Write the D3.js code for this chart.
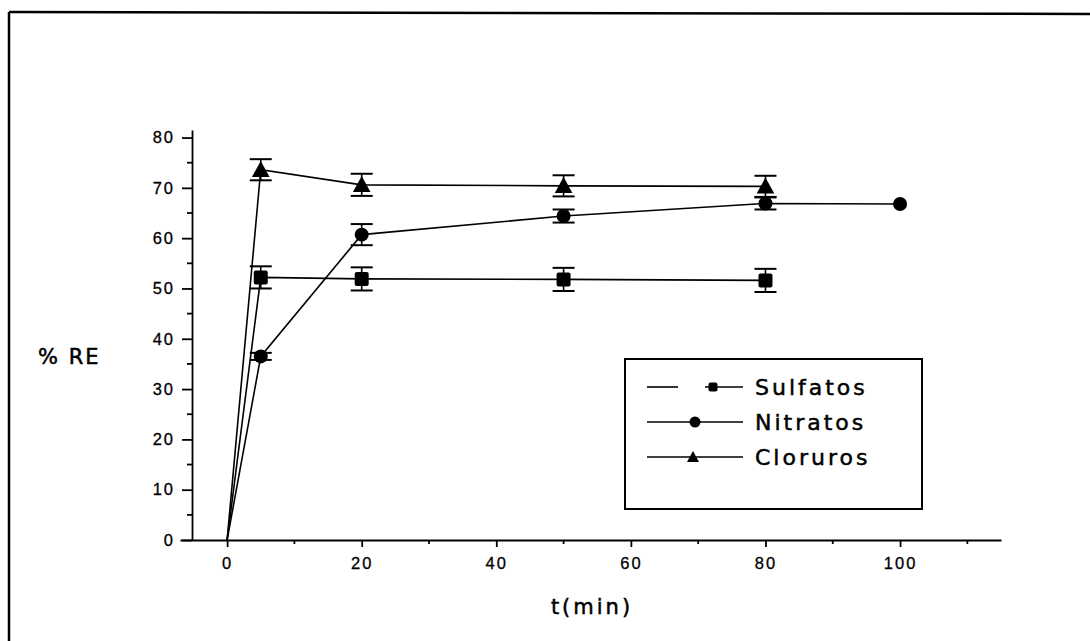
<!DOCTYPE html>
<head>
    <meta charset="utf-8">
    <script type="text/javascript" src="https://d3js.org/d3.v7.min.js"></script>
    <style>
        body { margin: 0; background: #fff; }
        .chart { background: #fff; }
        .axis text {
            font-family: "Liberation Sans", Arial, sans-serif;
            font-size: 16.5px;
            letter-spacing: 2px;
            fill: #000;
            stroke: #000;
            stroke-width: 0.3px;
        }
        .axis path, .axis line { stroke: #000; stroke-width: 1.8; }
        .lbl { font-family: "DejaVu Sans", sans-serif; fill: #000; stroke: #000; stroke-width: 0.5px; }
    </style>
</head>

<svg class="chart" width="1090" height="641"></svg>

<script>
    // data
    var tSulf = [0, 5, 20, 50, 80],
        sulfatos = [0, 52.2, 51.9, 51.8, 51.6],
        sulfErr = [0, 2.2, 2.3, 2.3, 2.3];

    var tNit = [0, 5, 20, 50, 80, 100],
        nitratos = [0, 36.5, 60.7, 64.4, 66.9, 66.8],
        nitErr = [0, 0.7, 2.1, 1.3, 1.2, 0];

    var tClor = [0, 5, 20, 50, 80],
        cloruros = [0, 73.6, 70.6, 70.4, 70.3],
        clorErr = [0, 2.1, 2.2, 2.1, 2.1];

    var xTicks = [0, 20, 40, 60, 80, 100],
        xMinor = [10, 30, 50, 70, 90, 110],
        yTicks = [0, 10, 20, 30, 40, 50, 60, 70, 80],
        yMinor = [5, 15, 25, 35, 45, 55, 65, 75];

    var names = ["Sulfatos", "Nitratos", "Cloruros"];

    var series = [
        { name: names[0], t: tSulf, v: sulfatos, e: sulfErr, shape: "square" },
        { name: names[1], t: tNit, v: nitratos, e: nitErr, shape: "circle" },
        { name: names[2], t: tClor, v: cloruros, e: clorErr, shape: "triangle" }
    ];

    var svg = d3.select(".chart");

    // page frame (top and left edge of scanned sheet)
    svg.append("line").attr("x1", 9).attr("y1", 12).attr("x2", 1090).attr("y2", 14)
        .attr("stroke", "#000").attr("stroke-width", 2.5);
    svg.append("line").attr("x1", 9).attr("y1", 12).attr("x2", 9).attr("y2", 641)
        .attr("stroke", "#000").attr("stroke-width", 2.5);

    var x = d3.scaleLinear().domain([-7, 115]).range([180, 1001]);
    var y = d3.scaleLinear().domain([0, 81.5]).range([540, 130]);
    var yAxisX = 192;

    // x axis
    var gx = svg.append("g").attr("class", "axis")
        .attr("transform", "translate(0," + y(0) + ")")
        .call(d3.axisBottom(x).tickValues(xTicks).tickSize(7).tickSizeOuter(0).tickPadding(10))
        .attr("font-size", null).attr("font-family", null);
    gx.selectAll(".minor").data(xMinor).enter().append("line")
        .attr("x1", function(d) { return x(d); }).attr("x2", function(d) { return x(d); })
        .attr("y1", 0).attr("y2", 4).attr("stroke", "#000").attr("stroke-width", 1.5);

    // y axis
    var gy = svg.append("g").attr("class", "axis")
        .attr("transform", "translate(" + yAxisX + ",0)")
        .call(d3.axisLeft(y).tickValues(yTicks).tickSize(10).tickSizeOuter(0).tickPadding(7))
        .attr("font-size", null).attr("font-family", null);
    gy.selectAll(".minor").data(yMinor).enter().append("line")
        .attr("x1", -5).attr("x2", 0)
        .attr("y1", function(d) { return y(d); }).attr("y2", function(d) { return y(d); })
        .attr("stroke", "#000").attr("stroke-width", 1.5);

    // axis titles
    svg.append("text").attr("class", "lbl")
        .attr("x", 38).attr("y", 364)
        .style("font-size", "21px").style("letter-spacing", "2px")
        .text("% RE");
    svg.append("text").attr("class", "lbl")
        .attr("x", 592).attr("y", 614).attr("text-anchor", "middle")
        .style("font-size", "21px").style("letter-spacing", "3px")
        .text("t(min)");

    function marker(g, shape, cx, cy, s) {
        if (shape === "square") {
            g.append("rect").attr("x", cx - s / 2).attr("y", cy - s / 2)
                .attr("width", s).attr("height", s).attr("rx", 2).attr("fill", "#000");
        } else if (shape === "circle") {
            g.append("circle").attr("cx", cx).attr("cy", cy).attr("r", s / 2).attr("fill", "#000");
        } else {
            g.append("path").attr("transform", "translate(" + cx + "," + cy + ")")
                .attr("d", "M0," + (-s * 0.55) + "L" + (s * 0.55) + "," + (s * 0.45) + "L" + (-s * 0.55) + "," + (s * 0.45) + "Z")
                .attr("fill", "#000");
        }
    }

    var line = d3.line()
        .x(function(d) { return x(d[0]); })
        .y(function(d) { return y(d[1]); });

    series.forEach(function(s) {
        var pts = s.t.map(function(t, i) { return [t, s.v[i], s.e[i]]; });
        var g = svg.append("g");

        g.append("path").datum(pts).attr("d", line)
            .attr("fill", "none").attr("stroke", "#000").attr("stroke-width", 1.6);

        // error bars
        pts.forEach(function(p) {
            if (!p[2]) return;
            var cx = x(p[0]), hi = y(p[1] + p[2]), lo = y(p[1] - p[2]);
            g.append("line").attr("x1", cx).attr("x2", cx).attr("y1", hi).attr("y2", lo)
                .attr("stroke", "#000").attr("stroke-width", 1.6);
            [hi, lo].forEach(function(yy) {
                g.append("line").attr("x1", cx - 11).attr("x2", cx + 11).attr("y1", yy).attr("y2", yy)
                    .attr("stroke", "#000").attr("stroke-width", 2);
            });
        });

        pts.forEach(function(p) {
            if (p[0] === 0) return;
            marker(g, s.shape, x(p[0]), y(p[1]), s.shape === "triangle" ? 16 : 14);
        });
    });

    // legend
    var lg = svg.append("g");
    lg.append("rect").attr("x", 625).attr("y", 359).attr("width", 297).attr("height", 150)
        .attr("fill", "none").attr("stroke", "#000").attr("stroke-width", 2);

    var legY = [387, 422, 457];
    series.forEach(function(s, i) {
        var yy = legY[i];
        if (s.shape === "square") {
            lg.append("line").attr("x1", 647).attr("x2", 678).attr("y1", yy).attr("y2", yy)
                .attr("stroke", "#000").attr("stroke-width", 1.6);
            lg.append("line").attr("x1", 705).attr("x2", 743).attr("y1", yy).attr("y2", yy)
                .attr("stroke", "#000").attr("stroke-width", 1.6);
            marker(lg, "square", 713, yy, 9);
        } else {
            lg.append("line").attr("x1", 647).attr("x2", 743).attr("y1", yy).attr("y2", yy)
                .attr("stroke", "#000").attr("stroke-width", 1.6);
            marker(lg, s.shape, s.shape === "circle" ? 695 : 693, yy, 11);
        }
        lg.append("text").attr("class", "lbl")
            .attr("x", 755).attr("y", yy + 8)
            .style("font-size", "22px").style("letter-spacing", "3px")
            .text(s.name);
    });
</script>
